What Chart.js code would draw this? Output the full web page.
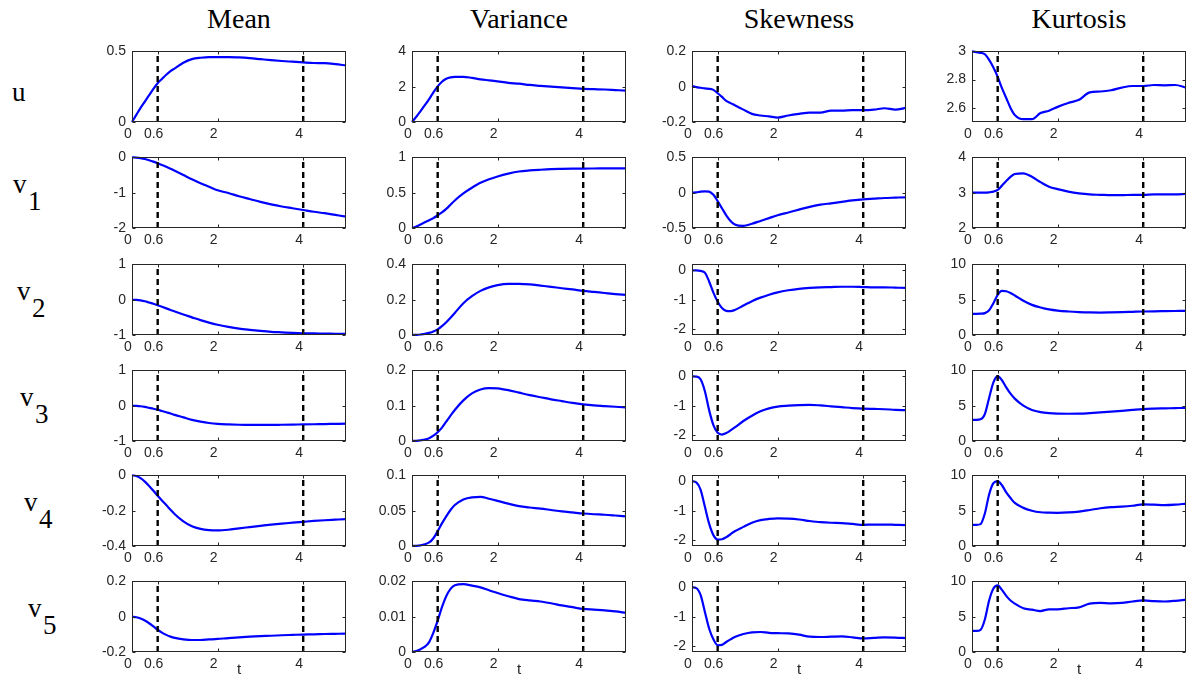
<!DOCTYPE html>
<html><head><meta charset="utf-8">
<script src="https://cdn.jsdelivr.net/npm/chart.js@4"></script>
<style>
html,body{margin:0;padding:0;background:#fff;}
#fig{position:relative;width:1188px;height:694px;overflow:hidden;background:#fff;}
#fig canvas{position:absolute;}
.title{position:absolute;font-family:'Liberation Serif','Times New Roman',serif;font-size:28px;line-height:1;color:#000;white-space:nowrap;transform:translateX(-50%);}
.rowlab{position:absolute;font-family:'Liberation Serif','Times New Roman',serif;font-size:27px;line-height:1;color:#000;white-space:nowrap;}
</style></head><body><div id="fig"></div>
<script>
// ---------------- data ----------------
const T = [0,0.1,0.2,0.3,0.4,0.5,0.6,0.7,0.8,0.9,1.0,1.2,1.4,1.6,1.8,2.0,2.25,2.5,2.75,3.0,3.25,3.5,3.75,4.0,4.25,4.5,4.75,5.0];
const X_TICKS = [0, 0.6, 2, 4];
const MARKERS = [0.6, 4];
const COLUMN_TITLES = ['Mean', 'Variance', 'Skewness', 'Kurtosis'];
const ROW_NAMES = ['u', 'v', 'v', 'v', 'v', 'v'];
const ROW_SUBS = ['', '1', '2', '3', '4', '5'];
const X_LABEL = 't';

const u_mean = [0,0.05,0.1,0.145,0.19,0.235,0.275,0.305,0.335,0.36,0.38,0.42,0.445,0.455,0.46,0.46,0.46,0.457,0.452,0.445,0.438,0.432,0.427,0.422,0.418,0.417,0.41,0.40];
const u_var  = [0,0.3,0.62,0.95,1.3,1.68,2.02,2.28,2.45,2.53,2.56,2.56,2.5,2.42,2.36,2.3,2.22,2.17,2.1,2.05,2.0,1.96,1.92,1.88,1.86,1.84,1.81,1.78];
const u_skew = [0.005,-0.002,-0.006,-0.01,-0.012,-0.018,-0.037,-0.058,-0.08,-0.093,-0.105,-0.13,-0.154,-0.163,-0.168,-0.175,-0.163,-0.154,-0.147,-0.147,-0.136,-0.136,-0.133,-0.133,-0.13,-0.122,-0.13,-0.12];
const u_kurt = [3.0,2.995,2.99,2.98,2.94,2.886,2.82,2.74,2.67,2.6,2.55,2.52,2.52,2.563,2.58,2.607,2.635,2.657,2.71,2.716,2.725,2.744,2.755,2.755,2.762,2.76,2.762,2.744];

const v1_mean = [0,-0.005,-0.02,-0.045,-0.08,-0.12,-0.165,-0.215,-0.265,-0.32,-0.38,-0.5,-0.62,-0.73,-0.83,-0.93,-1.01,-1.1,-1.18,-1.26,-1.33,-1.39,-1.44,-1.49,-1.54,-1.58,-1.63,-1.68];
const v1_var  = [0,0.02,0.05,0.08,0.11,0.14,0.18,0.22,0.27,0.33,0.39,0.49,0.57,0.64,0.69,0.73,0.77,0.8,0.815,0.825,0.833,0.837,0.84,0.842,0.843,0.844,0.845,0.845];
const v1_skew = [0,0.005,0.015,0.02,0.015,-0.03,-0.12,-0.22,-0.32,-0.4,-0.45,-0.47,-0.44,-0.4,-0.36,-0.32,-0.28,-0.24,-0.2,-0.17,-0.15,-0.13,-0.11,-0.095,-0.085,-0.075,-0.07,-0.065];
const v1_kurt = [3.0,3.0,3.0,3.0,3.01,3.03,3.08,3.2,3.33,3.45,3.53,3.55,3.45,3.3,3.17,3.1,3.03,2.98,2.95,2.94,2.93,2.93,2.94,2.94,2.95,2.95,2.95,2.97];

const v2_mean = [0,-0.005,-0.02,-0.045,-0.08,-0.115,-0.155,-0.2,-0.245,-0.29,-0.335,-0.42,-0.5,-0.58,-0.65,-0.71,-0.77,-0.82,-0.855,-0.885,-0.91,-0.925,-0.94,-0.95,-0.955,-0.96,-0.965,-0.97];
const v2_var  = [0,0.001,0.003,0.006,0.012,0.02,0.032,0.05,0.072,0.098,0.125,0.18,0.22,0.25,0.27,0.283,0.29,0.29,0.287,0.28,0.273,0.265,0.258,0.25,0.244,0.238,0.232,0.227];
const v2_skew = [0,0,-0.02,-0.08,-0.38,-0.76,-1.07,-1.28,-1.38,-1.39,-1.35,-1.2,-1.05,-0.93,-0.83,-0.75,-0.68,-0.63,-0.6,-0.58,-0.57,-0.56,-0.56,-0.57,-0.58,-0.58,-0.59,-0.6];
const v2_kurt = [3.0,3.0,3.02,3.1,3.5,4.5,5.7,6.25,6.2,5.95,5.6,4.85,4.27,3.9,3.62,3.45,3.33,3.25,3.2,3.18,3.2,3.23,3.28,3.33,3.36,3.38,3.4,3.42];

const v3_mean = [0,-0.005,-0.015,-0.035,-0.06,-0.085,-0.115,-0.15,-0.185,-0.22,-0.26,-0.33,-0.4,-0.45,-0.49,-0.515,-0.53,-0.54,-0.545,-0.545,-0.545,-0.54,-0.535,-0.53,-0.525,-0.52,-0.515,-0.51];
const v3_var  = [0,0.0005,0.002,0.004,0.008,0.015,0.025,0.038,0.055,0.072,0.088,0.115,0.135,0.146,0.15,0.149,0.144,0.137,0.13,0.124,0.118,0.113,0.108,0.104,0.101,0.099,0.097,0.095];
const v3_skew = [0,-0.01,-0.1,-0.5,-1.15,-1.66,-1.92,-1.98,-1.93,-1.84,-1.74,-1.52,-1.34,-1.19,-1.09,-1.03,-1.0,-0.98,-0.97,-0.99,-1.02,-1.05,-1.08,-1.1,-1.11,-1.12,-1.14,-1.15];
const v3_kurt = [3.0,3.0,3.08,3.8,6.1,8.3,9.2,8.6,7.6,6.7,6.0,5.0,4.4,4.1,3.95,3.88,3.86,3.87,3.95,4.05,4.15,4.27,4.4,4.52,4.58,4.62,4.66,4.7];

const v4_mean = [0,-0.003,-0.015,-0.035,-0.06,-0.087,-0.115,-0.142,-0.168,-0.195,-0.22,-0.26,-0.288,-0.303,-0.31,-0.312,-0.308,-0.3,-0.293,-0.286,-0.279,-0.273,-0.268,-0.263,-0.258,-0.254,-0.251,-0.248];
const v4_var  = [0,0.0003,0.001,0.0025,0.005,0.011,0.021,0.032,0.042,0.051,0.058,0.066,0.069,0.0695,0.067,0.064,0.06,0.0565,0.0545,0.053,0.051,0.049,0.0475,0.046,0.045,0.0443,0.0432,0.042];
const v4_skew = [0,-0.04,-0.28,-0.86,-1.44,-1.83,-1.98,-1.97,-1.9,-1.8,-1.7,-1.55,-1.41,-1.32,-1.28,-1.26,-1.27,-1.3,-1.35,-1.39,-1.41,-1.42,-1.45,-1.48,-1.47,-1.47,-1.48,-1.49];
const v4_kurt = [3.0,3.0,3.1,4.6,7.3,8.9,9.2,8.6,7.6,6.8,6.1,5.4,5.0,4.78,4.72,4.7,4.75,4.87,5.1,5.35,5.5,5.57,5.7,5.9,5.85,5.78,5.85,6.0];

const v5_mean = [0,-0.003,-0.01,-0.022,-0.037,-0.055,-0.074,-0.09,-0.103,-0.113,-0.12,-0.128,-0.132,-0.132,-0.129,-0.126,-0.121,-0.117,-0.113,-0.11,-0.108,-0.105,-0.103,-0.101,-0.1,-0.098,-0.097,-0.096];
const v5_var  = [0,0.0003,0.0008,0.0015,0.0028,0.0055,0.0089,0.0127,0.0158,0.0179,0.0189,0.0192,0.0188,0.0183,0.0175,0.0167,0.0158,0.015,0.0146,0.0143,0.0138,0.0132,0.0127,0.0122,0.012,0.0118,0.0115,0.0111];
const v5_skew = [0,-0.03,-0.26,-0.83,-1.4,-1.77,-1.97,-1.96,-1.86,-1.77,-1.69,-1.59,-1.53,-1.52,-1.55,-1.56,-1.57,-1.61,-1.68,-1.69,-1.68,-1.67,-1.7,-1.74,-1.72,-1.7,-1.71,-1.73];
const v5_kurt = [3.0,3.0,3.15,4.6,7.3,9.0,9.45,8.8,7.95,7.3,6.85,6.2,6.0,5.8,6.05,6.05,6.2,6.33,6.85,6.95,6.9,6.95,7.15,7.3,7.2,7.15,7.25,7.42];

// y-axis ranges and tick values
const u_ranges  = [[0,0.5],[0,4],[-0.2,0.2],[2.5,3]];
const u_ticks   = [[0,0.5],[0,2,4],[-0.2,0,0.2],[2.6,2.8,3]];
const v1_ranges = [[-2,0],[0,1],[-0.5,0.5],[2,4]];
const v1_ticks  = [[-2,-1,0],[0,0.5,1],[-0.5,0,0.5],[2,3,4]];
const v2_ranges = [[-1,1],[0,0.4],[-2.2,0.2],[0,10]];
const v2_ticks  = [[-1,0,1],[0,0.2,0.4],[-2,-1,0],[0,5,10]];
const v3_ranges = [[-1,1],[0,0.2],[-2.2,0.2],[0,10]];
const v3_ticks  = [[-1,0,1],[0,0.1,0.2],[-2,-1,0],[0,5,10]];
const v4_ranges = [[-0.4,0],[0,0.1],[-2.2,0.2],[0,10]];
const v4_ticks  = [[-0.4,-0.2,0],[0,0.05,0.1],[-2,-1,0],[0,5,10]];
const v5_ranges = [[-0.2,0.2],[0,0.02],[-2.2,0.2],[0,10]];
const v5_ticks  = [[-0.2,0,0.2],[0,0.01,0.02],[-2,-1,0],[0,5,10]];

const SERIES = [
  [u_mean, u_var, u_skew, u_kurt],
  [v1_mean, v1_var, v1_skew, v1_kurt],
  [v2_mean, v2_var, v2_skew, v2_kurt],
  [v3_mean, v3_var, v3_skew, v3_kurt],
  [v4_mean, v4_var, v4_skew, v4_kurt],
  [v5_mean, v5_var, v5_skew, v5_kurt]
];
const RANGES = [u_ranges, v1_ranges, v2_ranges, v3_ranges, v4_ranges, v5_ranges];
const TICKS  = [u_ticks, v1_ticks, v2_ticks, v3_ticks, v4_ticks, v5_ticks];

// ---------------- layout ----------------
const COL_LEFT = [132, 412, 692, 972];
const ROW_TOP = [45, 151, 258, 364, 469, 575];
const PW = 214, PH = 77;
const PAD_L = 50, PAD_T = 8, PAD_R = 8, PAD_B = 24, PAD_B_LAST = 42;
const AXIS_COLOR = '#262626';
const TICK_FONT = {family: "'Liberation Sans', Arial, Helvetica, sans-serif", size: 14};

Chart.defaults.font.family = TICK_FONT.family;
Chart.defaults.font.size = 14;
Chart.defaults.color = AXIS_COLOR;

const framePlugin = {
  id: 'frame',
  afterDatasetsDraw(chart) {
    const {ctx, chartArea: a, scales} = chart;
    ctx.save();
    ctx.strokeStyle = AXIS_COLOR;
    ctx.lineWidth = 1;
    const L = Math.round(a.left) + 0.5, R = Math.round(a.right) - 0.5;
    const Tp = Math.round(a.top) + 0.5, B = Math.round(a.bottom) - 0.5;
    ctx.strokeRect(L, Tp, R - L, B - Tp);
    ctx.beginPath();
    const tl = 3;
    scales.x.ticks.forEach(t => {
      const px = Math.round(scales.x.getPixelForValue(t.value)) + 0.5;
      ctx.moveTo(px, B); ctx.lineTo(px, B - tl);
      ctx.moveTo(px, Tp); ctx.lineTo(px, Tp + tl);
    });
    scales.y.ticks.forEach(t => {
      const py = Math.round(scales.y.getPixelForValue(t.value)) + 0.5;
      ctx.moveTo(L, py); ctx.lineTo(L + tl, py);
      ctx.moveTo(R, py); ctx.lineTo(R - tl, py);
    });
    ctx.stroke();
    ctx.restore();
  }
};

const fig = document.getElementById('fig');

function addDiv(cls, text, left, top) {
  const d = document.createElement('div');
  d.className = cls; d.textContent = text;
  d.style.left = left + 'px'; d.style.top = top + 'px';
  fig.appendChild(d);
  return d;
}

// column titles
COLUMN_TITLES.forEach((t, c) => addDiv('title', t, COL_LEFT[c] + PW / 2, 5));

// row labels
const ROW_LABEL_X = [12, 13, 17, 20, 24, 28];
ROW_NAMES.forEach((name, r) => {
  const cy = ROW_TOP[r] + PH / 2;
  if (!ROW_SUBS[r]) {
    addDiv('rowlab', name, ROW_LABEL_X[r], cy - 5);
  } else {
    addDiv('rowlab', name, ROW_LABEL_X[r], cy - 19);
    addDiv('rowlab', ROW_SUBS[r], ROW_LABEL_X[r] + 15, cy - 2);
  }
});

// panels
const LAST_ROW = SERIES.length - 1;
SERIES.forEach((row, r) => {
  row.forEach((vals, c) => {
    const isLast = r === LAST_ROW;
    const padB = isLast ? PAD_B_LAST : PAD_B;
    const cv = document.createElement('canvas');
    const W = PAD_L + PW + PAD_R, H = PAD_T + PH + padB;
    cv.width = W; cv.height = H;
    cv.style.left = (COL_LEFT[c] - PAD_L) + 'px';
    cv.style.top = (ROW_TOP[r] - PAD_T) + 'px';
    cv.style.width = W + 'px'; cv.style.height = H + 'px';
    fig.appendChild(cv);
    const [ymin, ymax] = RANGES[r][c];
    const yt = TICKS[r][c];
    const markerSets = MARKERS.map(m => ({
      data: [{x: m, y: ymin}, {x: m, y: ymax}],
      borderColor: '#000000', borderWidth: 2.4, borderDash: [6, 4],
      pointRadius: 0, clip: false, tension: 0
    }));
    new Chart(cv, {
      type: 'line',
      data: {
        datasets: [
          ...markerSets,
          {
            data: T.map((t, i) => ({x: t, y: vals[i]})),
            borderColor: '#0000ff', borderWidth: 2.2, pointRadius: 0,
            cubicInterpolationMode: 'monotone', clip: false
          }
        ]
      },
      options: {
        responsive: false, animation: false, devicePixelRatio: 1,
        events: [],
        layout: {padding: {top: PAD_T, right: PAD_R, left: 0, bottom: 0}},
        plugins: {legend: {display: false}, tooltip: {enabled: false}},
        scales: {
          x: {
            type: 'linear', min: 0, max: 5,
            afterBuildTicks: s => { s.ticks = X_TICKS.map(v => ({value: v})); },
            afterFit: s => { s.height = padB; },
            grid: {display: false, drawTicks: false},
            border: {display: false},
            title: {display: isLast, text: X_LABEL, color: AXIS_COLOR,
                    font: {family: TICK_FONT.family, size: 15}, padding: {top: 0, bottom: 15}},
            ticks: {autoSkip: false, maxRotation: 0, padding: 4, labelOffset: -4, color: AXIS_COLOR,
                    font: TICK_FONT, callback: v => String(v)}
          },
          y: {
            type: 'linear', min: ymin, max: ymax,
            afterBuildTicks: s => { s.ticks = yt.map(v => ({value: v})); },
            afterFit: s => { s.width = PAD_L; },
            grid: {display: false, drawTicks: false},
            border: {display: false},
            ticks: {autoSkip: false, padding: 6, color: AXIS_COLOR, font: TICK_FONT, callback: v => String(v)}
          }
        }
      },
      plugins: [framePlugin]
    });
  });
});
</script>
</body></html>
